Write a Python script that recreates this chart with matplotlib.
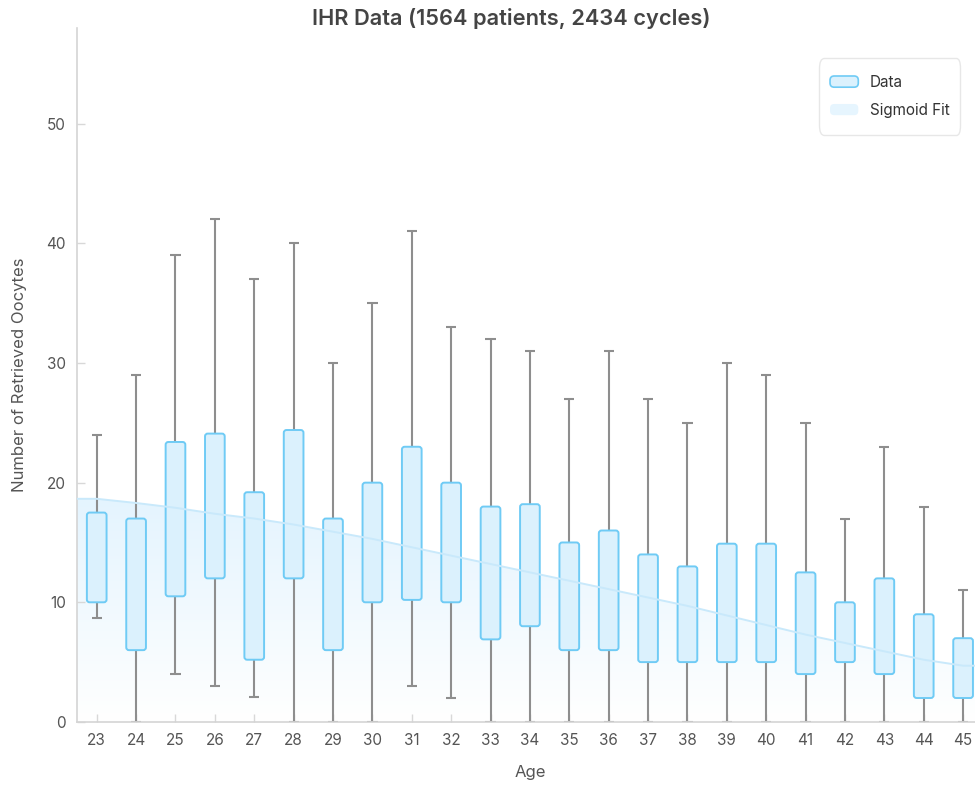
import matplotlib
matplotlib.use('Agg')
import matplotlib.pyplot as plt
import numpy as np
from matplotlib.patches import FancyBboxPatch, Patch
from matplotlib.legend_handler import HandlerPatch
from matplotlib.colors import LinearSegmentedColormap

plt.rcParams['font.family'] = ['Inter', 'DejaVu Sans']

# values
ages = list(range(23, 46))
whisker_low = [8.7, 0, 4, 3, 2.1, 0, 0, 0, 3, 2, 0, 0, 0, 0, 0, 0, 0, 0, 0, 0, 0, 0, 0]
q1 = [10, 6, 10.5, 12, 5.2, 12, 6, 10, 10.2, 10, 6.9, 8, 6, 6, 5, 5, 5, 5, 4, 5, 4, 2, 2]
q3 = [17.5, 17, 23.4, 24.1, 19.2, 24.4, 17, 20, 23, 20, 18, 18.2, 15, 16, 14, 13, 14.9, 14.9, 12.5, 10, 12, 9, 7]
whisker_high = [24, 29, 39, 42, 37, 40, 30, 35, 41, 33, 32, 31, 27, 31, 27, 25, 30, 29, 25, 17, 23, 18, 11]
fit = [18.65, 18.3, 17.9, 17.4, 17.0, 16.5, 15.9, 15.3, 14.6, 13.9, 13.2, 12.5,
       11.8, 11.1, 10.4, 9.7, 8.9, 8.1, 7.3, 6.6, 5.9, 5.2, 4.7]

box_face = '#dbf1fd'
box_edge = '#6fcbf5'
whisk_col = '#8e8e8e'
fit_col = '#c9e9fb'
fill_col = '#e4f4fe'

fig = plt.figure(figsize=(9.75, 7.89), dpi=100)
ax = fig.add_axes([0.079, 0.085, 0.929, 0.8795])
ax.set_xlim(22.5, 45.5)
ax.set_ylim(0, 58)

# sigmoid fit: line + gradient fill under it
fx = np.r_[ax.get_xlim()[0], ages, ax.get_xlim()[1]]
fy = np.r_[fit[0], fit, fit[-1]]
poly = ax.fill_between(fx, fy, 0, color='none', lw=0, zorder=1)
grad_cmap = LinearSegmentedColormap.from_list('g', ['#ffffff', fill_col])
grad = np.linspace(0, 1, 256).reshape(-1, 1)
img = ax.imshow(grad, cmap=grad_cmap, aspect='auto', origin='lower',
                extent=[fx[0], fx[-1], 0, max(fy)], zorder=1)
img.set_clip_path(poly.get_paths()[0], transform=ax.transData)
ax.set_xlim(22.5, 45.5)
ax.set_ylim(0, 58)

# boxes
box_w = 0.5
cap_w = 0.26
for a, lo, b1, b3, hi in zip(ages, whisker_low, q1, q3, whisker_high):
    ax.vlines(a, lo, b1, color=whisk_col, lw=1.5, zorder=2)
    ax.vlines(a, b3, hi, color=whisk_col, lw=1.5, zorder=2)
    ax.hlines([lo, hi], a - cap_w / 2, a + cap_w / 2, color=whisk_col, lw=1.5, zorder=2)
    box = FancyBboxPatch((a - box_w / 2, b1), box_w, b3 - b1,
                         boxstyle='round,pad=0,rounding_size=0.07',
                         mutation_aspect=3.3, facecolor=box_face,
                         edgecolor=box_edge, lw=1.4, zorder=3)
    ax.add_patch(box)

ax.plot(fx, fy, color=fit_col, lw=1.4, zorder=4)

# axes styling
for s in ['top', 'right']:
    ax.spines[s].set_visible(False)
for s in ['left', 'bottom']:
    ax.spines[s].set_color('#d4d4d4')
    ax.spines[s].set_linewidth(1.2)
ax.set_xticks(ages)
ax.set_yticks([0, 10, 20, 30, 40, 50])
ax.tick_params(axis='both', direction='in', length=6, width=1, color='#d8d8d8',
               labelcolor='#555555', labelsize=11, pad=8)
ax.set_xlabel('Age', fontsize=12, color='#555555', labelpad=12)
ax.set_ylabel('Number of Retrieved Oocytes', fontsize=12, color='#555555', labelpad=14)
fig.text(0.524, 0.977, 'IHR Data (1564 patients, 2434 cycles)', ha='center', va='center',
         fontsize=15.7, fontweight='semibold', color='#444444')


def rounded_patch(legend, orig_handle, xdescent, ydescent, width, height, fontsize):
    return FancyBboxPatch((-xdescent, -ydescent), width, height,
                          boxstyle='round,pad=0,rounding_size=3')


handles = [Patch(facecolor=box_face, edgecolor=box_edge, lw=1.2, label='Data'),
           Patch(facecolor='#e6f5fe', edgecolor='none', label='Sigmoid Fit')]
leg = fig.legend(handles=handles, loc='upper left', bbox_to_anchor=(0.838, 0.9215),
                 fontsize=11, frameon=True, handlelength=1.85, handleheight=0.75,
                 handletextpad=0.75, labelspacing=0.85, borderpad=0.35,
                 handler_map={Patch: HandlerPatch(patch_func=rounded_patch)})
frame = leg.get_frame()
frame.set_edgecolor('#e2e2e2')
frame.set_linewidth(1)
frame.set_boxstyle('round,pad=0.35,rounding_size=0.3')
frame.set_mutation_aspect(2.2)
for t in leg.get_texts():
    t.set_color('#333333')

fig.savefig('out.png', dpi=100)
